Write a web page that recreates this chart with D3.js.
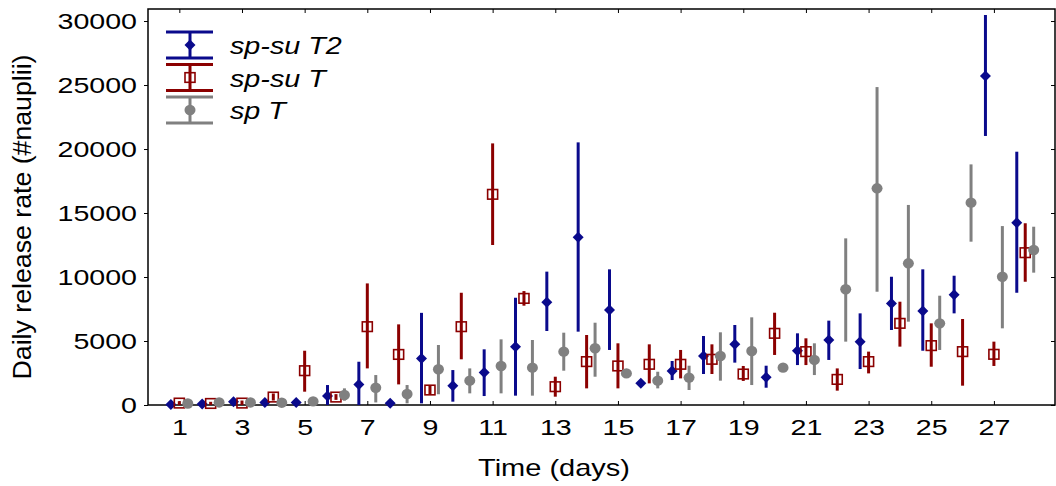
<!DOCTYPE html>
<html>
<head>
<meta charset="utf-8">
<script src="https://cdn.jsdelivr.net/npm/d3@7/dist/d3.min.js"></script>
<style>
body { margin: 0; background: #fff; }
text { font-family: "Liberation Sans", Arial, sans-serif; fill: #000; }
</style>
</head>
<body>
<svg id="chart" width="1056" height="486"></svg>
<script>

// Categories and ticks
const days = [1, 2, 3, 4, 5, 6, 7, 8, 9, 10, 11, 12, 13, 14, 15, 16, 17, 18, 19, 20, 21, 22, 23, 24, 25, 26, 27, 28];
const xTicks = [1, 3, 5, 7, 9, 11, 13, 15, 17, 19, 21, 23, 25, 27];
const yTicks = [0, 5000, 10000, 15000, 20000, 25000, 30000];
const seriesNames = ["sp-su T2", "sp-su T", "sp T"];

// sp-su T2 (blue diamonds)
const t2Mean = [30, 80, 260, 200, 200, 700, 1610, 130, 3640, 1510, 2530, 4560, 8020, 13100, 7420, 1690, 2660, 3830, 4740, 2160, 4240, 5080, 4950, 7940, 7340, 8620, 25700, 14240];
const t2Low  = [0, 0, 150, 100, 100, 0, 0, 0, 130, 260, 700, 730, 5780, 5730, 4300, 1550, 1950, 2420, 3310, 1350, 3120, 3520, 2810, 5860, 4240, 7160, 21020, 8770];
const t2High = [100, 180, 400, 300, 300, 1560, 3380, 250, 7200, 2730, 4350, 8380, 10420, 20520, 10600, 1830, 3440, 5390, 6250, 3070, 5600, 6590, 7160, 10020, 10600, 10100, 30470, 19790];

// sp-su T (red open squares)
const tMean = [150, 120, 150, 620, 2680, 620, 6120, 3950, 1170, 6120, 16460, 8330, 1430, 3390, 3050, 3180, 3180, 3570, 2420, 5600, 4170, 2000, 3390, 6380, 4640, 4170, 3960, 11900];
const tLow  = [0, 0, 0, 350, 1040, 400, 2860, 1610, 840, 3570, 12500, 7760, 650, 1300, 1300, 1690, 2080, 2420, 1880, 3910, 3120, 1120, 2470, 4560, 2990, 1510, 3050, 9630];
const tHigh = [300, 250, 350, 900, 4240, 850, 9500, 6300, 1510, 8770, 20440, 8900, 2210, 5470, 4820, 4740, 4300, 4740, 3050, 7210, 5210, 2860, 4170, 8070, 6380, 6720, 4950, 14200];

// sp T (gray circles)
const spMean = [120, 200, 200, 180, 280, 780, 1350, 860, 2790, 1900, 3050, 2920, 4170, 4430, 2470, 1900, 2140, 3830, 4220, 2920, 3520, 9040, 16930, 11070, 6380, 15810, 10020, 12110];
const spLow  = [50, 100, 100, 100, 150, 340, 200, 130, 840, 910, 910, 730, 2680, 2210, 2350, 1300, 1170, 1900, 1560, 2800, 2340, 4950, 8850, 6510, 4300, 12760, 5990, 10340];
const spHigh = [200, 300, 300, 260, 400, 1300, 2340, 1560, 4690, 2860, 5130, 5080, 5650, 6430, 2600, 2600, 3070, 5680, 6850, 3050, 4820, 13020, 24840, 15630, 8540, 18800, 13980, 13930];

// Series setup
const colors = ["#0a0a8c", "#8b0000", "#808080"];
const offsets = [-0.27, 0, 0.27];
const series = [
	{name: seriesNames[0], mean: t2Mean, low: t2Low, high: t2High, shape: "diamond"},
	{name: seriesNames[1], mean: tMean, low: tLow, high: tHigh, shape: "square"},
	{name: seriesNames[2], mean: spMean, low: spLow, high: spHigh, shape: "circle"}
];
const textStretch = 1.3;

const svg = d3.select("#chart");

// Scales
const x = d3.scaleLinear().domain([0, 28.95]).range([148, 1055]);
const y = d3.scaleLinear().domain([0, 30940]).range([405, 9]);

// Frame
svg.append("rect")
	.attr("x", x.range()[0])
	.attr("y", y.range()[1])
	.attr("width", x.range()[1] - x.range()[0])
	.attr("height", y.range()[0] - y.range()[1])
	.attr("fill", "none")
	.attr("stroke", "#000")
	.attr("stroke-width", 1.5);

// Bottom axis, ticks inward
const xAxis = svg.append("g")
	.attr("transform", `translate(0,${y.range()[0]})`)
	.call(d3.axisBottom(x).tickValues(xTicks).tickSizeInner(-4).tickSizeOuter(0).tickPadding(14));
xAxis.select(".domain").remove();
xAxis.selectAll("text")
	.style("font-size", "22px")
	.attr("transform", `scale(${textStretch},1)`);

// Left axis, ticks outward
const yAxis = svg.append("g")
	.attr("transform", `translate(${x.range()[0]},0)`)
	.call(d3.axisLeft(y).tickValues(yTicks).tickFormat(d3.format("d")).tickSizeInner(4).tickSizeOuter(0).tickPadding(7));
yAxis.select(".domain").remove();
yAxis.selectAll("text")
	.style("font-size", "22px")
	.attr("x", -11 / textStretch)
	.attr("dy", "0.36em")
	.attr("transform", `scale(${textStretch},1)`);

// Top and right ticks (no labels)
const topAxis = svg.append("g")
	.attr("transform", `translate(0,${y.range()[1]})`)
	.call(d3.axisTop(x).tickValues(xTicks).tickSizeInner(-4).tickSizeOuter(0).tickFormat(""));
topAxis.select(".domain").remove();
const rightAxis = svg.append("g")
	.attr("transform", `translate(${x.range()[1]},0)`)
	.call(d3.axisRight(y).tickValues(yTicks).tickSizeInner(-4).tickSizeOuter(0).tickFormat(""));
rightAxis.select(".domain").remove();

// Axis titles
svg.append("text")
	.attr("x", 554)
	.attr("y", 476)
	.attr("text-anchor", "middle")
	.attr("textLength", 152)
	.attr("lengthAdjust", "spacingAndGlyphs")
	.style("font-size", "24px")
	.text("Time (days)");

svg.append("text")
	.attr("transform", "translate(31,217) rotate(-90)")
	.attr("text-anchor", "middle")
	.attr("textLength", 325)
	.attr("lengthAdjust", "spacingAndGlyphs")
	.style("font-size", "26px")
	.text("Daily release rate (#nauplii)");

// Marker drawing
function addMarker(g, shape, color) {
	if (shape === "diamond") {
		g.append("path")
			.attr("d", "M0,-5.5 L5.5,0 L0,5.5 L-5.5,0 Z")
			.attr("fill", color);
	} else if (shape === "square") {
		g.append("rect")
			.attr("x", -5).attr("y", -4.8)
			.attr("width", 10).attr("height", 9.6)
			.attr("fill", "none")
			.attr("stroke", color)
			.attr("stroke-width", 1.6);
	} else {
		g.append("ellipse")
			.attr("rx", 5.5).attr("ry", 5.2)
			.attr("fill", color);
	}
}

// Error bars and markers
series.forEach((s, i) => {
	const rows = days.map((d, j) => ({day: d, mean: s.mean[j], low: s.low[j], high: s.high[j]}));
	const g = svg.append("g").attr("class", "series");

	g.selectAll("line")
		.data(rows)
		.join("line")
		.attr("x1", d => x(d.day + offsets[i]))
		.attr("x2", d => x(d.day + offsets[i]))
		.attr("y1", d => y(d.low))
		.attr("y2", d => y(d.high))
		.attr("stroke", colors[i])
		.attr("stroke-width", 3);

	g.selectAll("g.pt")
		.data(rows)
		.join("g")
		.attr("class", "pt")
		.attr("transform", d => `translate(${x(d.day + offsets[i])},${y(d.mean)})`)
		.each(function() { addMarker(d3.select(this), s.shape, colors[i]); });
});

// Legend
const legend = svg.append("g").attr("class", "legend");
series.forEach((s, i) => {
	const cy = 45 + i * 32.5;
	const item = legend.append("g").attr("transform", `translate(190,${cy})`);
	item.append("line")
		.attr("x1", 0).attr("x2", 0).attr("y1", -13).attr("y2", 13)
		.attr("stroke", colors[i]).attr("stroke-width", 3);
	[-13, 13].forEach(cap => {
		item.append("line")
			.attr("x1", -24).attr("x2", 23).attr("y1", cap).attr("y2", cap)
			.attr("stroke", colors[i]).attr("stroke-width", 3);
	});
	addMarker(item, s.shape, colors[i]);
	legend.append("g")
		.attr("transform", `translate(230,${cy + 9})`)
		.append("text")
		.attr("transform", `scale(1.25,1)`)
		.style("font-size", "23px")
		.style("font-style", "italic")
		.text(s.name);
});

</script>
</body>
</html>
